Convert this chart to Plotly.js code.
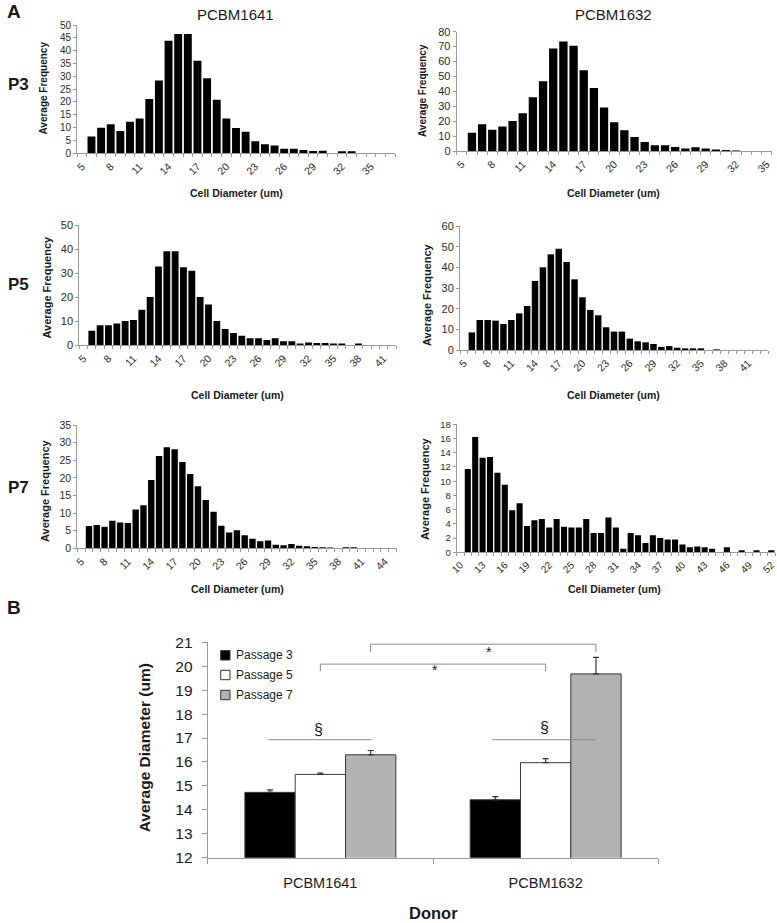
<!DOCTYPE html>
<html><head><meta charset="utf-8">
<script src="https://cdn.plot.ly/plotly-3.0.1.min.js"></script>
<style>html,body{margin:0;padding:0;background:#fff}#chart{width:777px;height:923px}</style>
</head><body><div id="chart"></div>
<script>
// ---------------- DATA ----------------
// Panel A histograms: average frequency per 1-um cell-diameter bin
const p3_1641_first = 5;
const p3_1641 = [0, 6.5, 10, 11.3, 8.7, 12.3, 13.6, 21.2, 28.4, 43.9, 46.5, 46.5, 36.1, 29.2, 20.9, 13.6, 9.9, 8.4, 4.7, 3.5, 3.0, 1.8, 1.8, 1.3, 0.9, 1.0, 0, 0.8, 0.8, 0, 0, 0, 0];
const p3_1641_ticks = [5, 8, 11, 14, 17, 20, 23, 26, 29, 32, 35];

const p3_1632_first = 5;
const p3_1632 = [0, 12.3, 17.9, 14.3, 16.5, 20.1, 25.3, 36.0, 46.7, 68.8, 73.5, 70.6, 54.1, 42.2, 29.1, 19.2, 13.9, 9.4, 6.0, 3.8, 3.8, 2.7, 1.6, 2.5, 1.6, 1.0, 0.6, 0.4, 0, 0, 0];
const p3_1632_ticks = [5, 8, 11, 14, 17, 20, 23, 26, 29, 32, 35];

const p5_1641_first = 5;
const p5_1641 = [0, 6.0, 8.3, 8.3, 9.1, 10.1, 10.5, 14.8, 20.1, 32.8, 39.1, 39.1, 32.4, 31.0, 20.1, 17.0, 10.1, 6.8, 5.1, 4.0, 2.9, 2.9, 2.2, 2.9, 1.7, 1.7, 0.7, 1.2, 1.0, 1.0, 0.8, 0.8, 0, 0.7, 0, 0, 0, 0];
const p5_1641_ticks = [5, 8, 11, 14, 17, 20, 23, 26, 29, 32, 35, 38, 41];

const p5_1632_first = 5;
const p5_1632 = [0, 8.5, 14.5, 14.5, 14.2, 12.6, 14.5, 17.7, 21.3, 33.4, 40.0, 46.3, 49.0, 42.6, 34.2, 25.5, 19.4, 16.8, 11.0, 8.9, 8.9, 5.5, 4.2, 3.7, 2.9, 1.5, 1.9, 1.1, 0.8, 0.8, 0.8, 0, 0.3, 0, 0, 0, 0, 0, 0];
const p5_1632_ticks = [5, 8, 11, 14, 17, 20, 23, 26, 29, 32, 35, 38, 41];

const p7_1641_first = 5;
const p7_1641 = [0, 6.3, 6.6, 6.1, 7.8, 7.3, 7.2, 11.0, 12.2, 19.4, 26.2, 28.7, 28.1, 24.5, 21.1, 17.6, 13.7, 10.4, 6.4, 4.5, 5.1, 3.7, 2.7, 2.0, 2.2, 1.0, 0.9, 1.2, 0.7, 0.6, 0.4, 0.3, 0.2, 0, 0.3, 0.3, 0, 0, 0, 0, 0];
const p7_1641_ticks = [5, 8, 11, 14, 17, 20, 23, 26, 29, 32, 35, 38, 41, 44];

const p7_1632_first = 10;
const p7_1632 = [0, 11.7, 16.2, 13.3, 13.4, 11.2, 9.5, 5.9, 6.9, 3.7, 4.5, 4.7, 3.5, 4.7, 3.6, 3.5, 3.5, 4.7, 2.7, 2.7, 4.9, 3.5, 0.5, 2.7, 2.4, 1.3, 2.4, 2.0, 1.8, 1.8, 1.1, 0.7, 0.8, 0.7, 0.5, 0, 0.7, 0, 0.3, 0, 0.3, 0, 0.3];
const p7_1632_ticks = [10, 13, 16, 19, 22, 25, 28, 31, 34, 37, 40, 43, 46, 49, 52];

// Panel B: average diameter (um) with SEM
const donors = ['PCBM1641', 'PCBM1632'];
const passage3 = [14.73, 14.42];
const passage3Err = [0.10, 0.13];
const passage5 = [15.48, 15.97];
const passage5Err = [0.06, 0.17];
const passage7 = [16.30, 19.68];
const passage7Err = [0.18, 0.69];
const seriesNames = ['Passage 3', 'Passage 5', 'Passage 7'];

// ---------------- LAYOUT ----------------
const W = 777, H = 923;
const FONT = 'Arial, "Liberation Sans", sans-serif';
const AX = '#9a9a9a';
const TXT = '#1a1a1a';
const px2x = p => p / W;
const py2y = p => 1 - p / H;
function range(a, b) { const r = []; for (let i = a; i <= b; i++) r.push(i); return r; }

const hist = [
  {first: p3_1641_first, vals: p3_1641, ticks: p3_1641_ticks, px: [77, 395], py: [25, 153.3], ymax: 50, dtick: 5, yfs: 10, xfs: 10.5},
  {first: p3_1632_first, vals: p3_1632, ticks: p3_1632_ticks, px: [456.7, 771.7], py: [31.7, 151], ymax: 80, dtick: 10, yfs: 11, xfs: 10.5},
  {first: p5_1641_first, vals: p5_1641, ticks: p5_1641_ticks, px: [79.3, 396], py: [225, 345.3], ymax: 50, dtick: 10, yfs: 11, xfs: 10.5},
  {first: p5_1632_first, vals: p5_1632, ticks: p5_1632_ticks, px: [460, 768], py: [226, 350], ymax: 60, dtick: 10, yfs: 11, xfs: 10.5},
  {first: p7_1641_first, vals: p7_1641, ticks: p7_1641_ticks, px: [77.3, 396.5], py: [425, 548.3], ymax: 35, dtick: 5, yfs: 10.5, xfs: 10.5},
  {first: p7_1632_first, vals: p7_1632, ticks: p7_1632_ticks, px: [456.7, 775], py: [424.3, 552.3], ymax: 18, dtick: 2, yfs: 9.5, xfs: 10}
];

const traces = [];
const layout = {
  width: W, height: H, margin: {l: 0, r: 0, t: 0, b: 0},
  paper_bgcolor: '#fff', plot_bgcolor: 'rgba(0,0,0,0)',
  showlegend: false, hovermode: false,
  barmode: 'group', bargap: 0.33, bargroupgap: 0,
  font: {family: FONT, color: TXT},
  annotations: [], shapes: []
};

hist.forEach((h, i) => {
  const n = i + 1, s = n === 1 ? '' : String(n);
  const bins = range(h.first, h.first + h.vals.length - 1);
  traces.push({type: 'bar', x: bins, y: h.vals, xaxis: 'x' + s, yaxis: 'y' + s,
    width: 0.82, marker: {color: '#000', line: {width: 0}}, hoverinfo: 'skip'});
  layout['xaxis' + s] = {
    domain: [px2x(h.px[0]), px2x(h.px[1])], anchor: 'y' + s,
    range: [h.first - 0.5, bins[bins.length - 1] + 0.5],
    tickmode: 'array', tickvals: h.ticks, ticktext: h.ticks.map(String), tickangle: -45,
    ticks: '', showline: true, linecolor: AX, linewidth: 1, showgrid: false, zeroline: false,
    tickfont: {family: FONT, size: h.xfs, color: '#2a2a2a'}, ticklabelstandoff: 2,
    minor: {tickmode: 'linear', tick0: 0.5, dtick: 1, ticks: 'outside', ticklen: 3, tickcolor: AX, tickwidth: 1, showgrid: false},
    fixedrange: true
  };
  layout['yaxis' + s] = {
    domain: [py2y(h.py[1]), py2y(h.py[0])], anchor: 'x' + s,
    range: [0, h.ymax], tick0: 0, dtick: h.dtick,
    ticks: 'outside', ticklen: 3, tickcolor: AX, showline: true, linecolor: AX, linewidth: 1,
    showgrid: false, zeroline: false, tickfont: {family: FONT, size: h.yfs, color: '#2a2a2a'}, fixedrange: true
  };
});

// Panel B
const bFill = ['#000000', '#ffffff', '#b2b2b2'];
const bVals = [passage3, passage5, passage7];
const bErr = [passage3Err, passage5Err, passage7Err];
bVals.forEach((v, k) => {
  traces.push({type: 'bar', name: seriesNames[k], x: donors, y: v, xaxis: 'x7', yaxis: 'y7',
    marker: {color: bFill[k], line: {color: '#3a3a3a', width: 1}},
    error_y: {type: 'data', symmetric: false, array: bErr[k], arrayminus: [0, 0], color: '#333', thickness: 1.2, width: 3},
    hoverinfo: 'skip'});
});
layout.xaxis7 = {
  domain: [px2x(207.7), px2x(658.3)], anchor: 'y7', type: 'category', range: [-0.5, 1.5],
  tickson: 'boundaries', ticks: 'outside', ticklen: 5, tickcolor: AX, showline: true, linecolor: AX,
  showgrid: false, zeroline: false, tickfont: {family: FONT, size: 14.5, color: TXT}, ticklabelstandoff: 12, fixedrange: true
};
layout.yaxis7 = {
  domain: [py2y(857.7), py2y(642.3)], anchor: 'x7', range: [12, 21], tick0: 12, dtick: 1,
  ticks: 'outside', ticklen: 5, tickcolor: AX, showline: true, linecolor: AX, showgrid: false, zeroline: false,
  tickfont: {family: FONT, size: 15.5, color: TXT}, ticklabelstandoff: 6, fixedrange: true
};

// ---------------- TEXT ----------------
function ann(text, x, y, size, opts) {
  layout.annotations.push(Object.assign({text: text, x: px2x(x), y: py2y(y), xref: 'paper', yref: 'paper',
    showarrow: false, xanchor: 'center', yanchor: 'middle', font: {family: FONT, size: size, color: TXT}}, opts || {}));
}
ann('<b>A</b>', 13.5, 12, 19);
ann('<b>B</b>', 14, 607, 19);
ann('<b>P3</b>', 18.5, 84, 17);
ann('<b>P5</b>', 18.5, 284, 17);
ann('<b>P7</b>', 18.5, 487.5, 17);
ann('PCBM1641', 235, 15, 15);
ann('PCBM1632', 613.5, 15, 15);

const freqTitles = [[43, 88.5, 10], [423, 91, 10], [46, 287.5, 11], [427, 295, 11], [45, 491, 11], [425, 489, 11]];
freqTitles.forEach(t => ann('<b>Average Frequency</b>', t[0], t[1], t[2], {textangle: -90}));
const diamTitles = [[236, 192.7], [613, 192.7], [237, 395], [613, 395], [237, 589], [614, 589]];
diamTitles.forEach(t => ann('<b>Cell Diameter (um)</b>', t[0], t[1], 10.5));

ann('<b>Average Diameter (um)</b>', 144.3, 748, 15.5, {textangle: -90});
ann('<b>Donor</b>', 433, 912.5, 16.5);

// Legend (custom, Excel style)
const legY = [655.3, 675, 695];
legY.forEach((yy, k) => {
  layout.shapes.push({type: 'rect', xref: 'paper', yref: 'paper',
    x0: px2x(220.7), x1: px2x(230), y0: py2y(yy + 4.7), y1: py2y(yy - 4.7),
    fillcolor: bFill[k], line: {color: '#333', width: 1}});
  ann(seriesNames[k], 234, yy, 12, {xanchor: 'left'});
});

// Significance marks (category-index coordinates on the donor axis)
const sigLineColor = '#8a8a8a';
const sectionMarks = [{x0: -0.23, x1: 0.227, y: 16.93, tx: -0.01, ty: 17.36}, {x0: 0.763, x1: 1.223, y: 16.93, tx: 0.993, ty: 17.42}];
sectionMarks.forEach(m => {
  layout.shapes.push({type: 'line', xref: 'x7', yref: 'y7', x0: m.x0, x1: m.x1, y0: m.y, y1: m.y, line: {color: sigLineColor, width: 1}});
  layout.annotations.push({text: '§', x: m.tx, y: m.ty, xref: 'x7', yref: 'y7', showarrow: false,
    font: {family: FONT, size: 16, color: TXT}});
});
const brackets = [{x0: 0, x1: 1, top: 20.09, drop: 19.79, tx: 0.508, ty: 19.84}, {x0: 0.223, x1: 1.223, top: 20.92, drop: 20.58, tx: 0.749, ty: 20.61}];
brackets.forEach(b => {
  layout.shapes.push({type: 'path', xref: 'x7', yref: 'y7',
    path: 'M' + b.x0 + ',' + b.drop + ' L' + b.x0 + ',' + b.top + ' L' + b.x1 + ',' + b.top + ' L' + b.x1 + ',' + b.drop,
    line: {color: sigLineColor, width: 1}});
  layout.annotations.push({text: '*', x: b.tx, y: b.ty, xref: 'x7', yref: 'y7', showarrow: false,
    font: {family: FONT, size: 14, color: TXT}});
});

Plotly.newPlot('chart', traces, layout, {staticPlot: true, displayModeBar: false});
</script>
</body></html>
